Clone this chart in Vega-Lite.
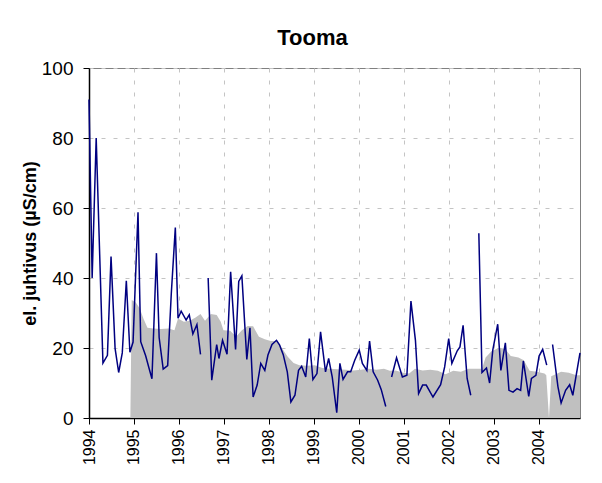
{
  "$schema": "https://vega.github.io/schema/vega-lite/v6.json",
  "width": 491,
  "height": 350,
  "autosize": "none",
  "padding": {"left": 89, "top": 68, "right": 22, "bottom": 65},
  "background": "white",
  "config": {
    "font": "Liberation Sans",
    "view": {"stroke": "#808080", "strokeWidth": 1},
    "axis": {"labelFont": "Liberation Sans", "titleFont": "Liberation Sans", "labelColor": "black", "titleColor": "black"}
  },
  "title": {"text": "Tooma", "fontSize": 22, "fontWeight": "bold", "font": "Liberation Sans", "color": "black", "anchor": "middle", "frame": "group", "dx": -22, "dy": 30, "baseline": "alphabetic", "offset": 22},
  "datasets": {
    "area": [
      {"t": 1994.92, "v": 0}, {"t": 1994.95, "v": 33.7}, {"t": 1995.04, "v": 33}, {"t": 1995.13, "v": 31.3}, {"t": 1995.21, "v": 28.4},
      {"t": 1995.30, "v": 25.8}, {"t": 1995.43, "v": 25.6}, {"t": 1995.60, "v": 25.4}, {"t": 1995.77, "v": 25.6}, {"t": 1995.90, "v": 25.1},
      {"t": 1995.98, "v": 28.4}, {"t": 1996.11, "v": 27.5}, {"t": 1996.24, "v": 27.8}, {"t": 1996.37, "v": 28.7}, {"t": 1996.48, "v": 29.7},
      {"t": 1996.58, "v": 27.8}, {"t": 1996.71, "v": 29.7}, {"t": 1996.84, "v": 29.4}, {"t": 1996.93, "v": 27.5}, {"t": 1996.99, "v": 25.1},
      {"t": 1997.14, "v": 24.9}, {"t": 1997.27, "v": 23.2}, {"t": 1997.40, "v": 25.1}, {"t": 1997.53, "v": 26.3}, {"t": 1997.65, "v": 26.2},
      {"t": 1997.78, "v": 23.2}, {"t": 1997.91, "v": 22.5}, {"t": 1998.04, "v": 22}, {"t": 1998.17, "v": 22}, {"t": 1998.30, "v": 19.8},
      {"t": 1998.42, "v": 17.5}, {"t": 1998.55, "v": 15.7}, {"t": 1998.68, "v": 15.1}, {"t": 1998.85, "v": 14.9}, {"t": 1999.02, "v": 15.1},
      {"t": 1999.19, "v": 14.3}, {"t": 1999.36, "v": 14.1}, {"t": 1999.53, "v": 13.9}, {"t": 1999.71, "v": 13.8}, {"t": 1999.88, "v": 13.6},
      {"t": 2000.05, "v": 13.8}, {"t": 2000.22, "v": 14.1}, {"t": 2000.39, "v": 13.8}, {"t": 2000.56, "v": 14.1}, {"t": 2000.69, "v": 13.5},
      {"t": 2000.82, "v": 13.6}, {"t": 2000.99, "v": 12.9}, {"t": 2001.12, "v": 12.7}, {"t": 2001.25, "v": 14.1}, {"t": 2001.42, "v": 13.6},
      {"t": 2001.59, "v": 13.8}, {"t": 2001.76, "v": 13.5}, {"t": 2001.93, "v": 12.5}, {"t": 2002.10, "v": 13.5}, {"t": 2002.27, "v": 13.2},
      {"t": 2002.44, "v": 14.1}, {"t": 2002.61, "v": 14.1}, {"t": 2002.74, "v": 14.1}, {"t": 2002.82, "v": 17.3}, {"t": 2002.95, "v": 19.1},
      {"t": 2003.12, "v": 20.1}, {"t": 2003.25, "v": 19.8}, {"t": 2003.38, "v": 17.7}, {"t": 2003.55, "v": 17.3}, {"t": 2003.67, "v": 16.5},
      {"t": 2003.80, "v": 13.5}, {"t": 2003.96, "v": 13.2}, {"t": 2004.13, "v": 12.7}, {"t": 2004.17, "v": 12.2}, {"t": 2004.23, "v": 0},
      {"t": 2004.28, "v": 11.9}, {"t": 2004.50, "v": 13.2}, {"t": 2004.67, "v": 12.9}, {"t": 2004.84, "v": 12.2}, {"t": 2004.92, "v": 12.2}
    ],
    "line": [
      {"t": 1994.00, "v": 91, "s": 1}, {"t": 1994.07, "v": 40, "s": 1}, {"t": 1994.16, "v": 80, "s": 1}, {"t": 1994.31, "v": 15.7, "s": 1},
      {"t": 1994.41, "v": 17.9, "s": 1}, {"t": 1994.49, "v": 46.1, "s": 1}, {"t": 1994.58, "v": 19.9, "s": 1}, {"t": 1994.66, "v": 13, "s": 1},
      {"t": 1994.74, "v": 18.6, "s": 1}, {"t": 1994.83, "v": 39.2, "s": 1}, {"t": 1994.91, "v": 18.8, "s": 1}, {"t": 1994.98, "v": 21.7, "s": 1},
      {"t": 1995.09, "v": 58.8, "s": 1}, {"t": 1995.15, "v": 21.8, "s": 1}, {"t": 1995.26, "v": 17.8, "s": 1}, {"t": 1995.34, "v": 14, "s": 1},
      {"t": 1995.40, "v": 11.2, "s": 1}, {"t": 1995.50, "v": 47.1, "s": 1}, {"t": 1995.56, "v": 23, "s": 1}, {"t": 1995.65, "v": 14, "s": 1},
      {"t": 1995.75, "v": 15, "s": 1}, {"t": 1995.83, "v": 35.5, "s": 1}, {"t": 1995.92, "v": 54.4, "s": 1}, {"t": 1995.98, "v": 28.5, "s": 1},
      {"t": 1996.05, "v": 30.5, "s": 1}, {"t": 1996.16, "v": 28, "s": 1}, {"t": 1996.23, "v": 29.5, "s": 1}, {"t": 1996.31, "v": 24, "s": 1},
      {"t": 1996.40, "v": 26.7, "s": 1}, {"t": 1996.48, "v": 18.2, "s": 1},
      {"t": 1996.65, "v": 40, "s": 2}, {"t": 1996.73, "v": 10.8, "s": 2}, {"t": 1996.84, "v": 21, "s": 2}, {"t": 1996.89, "v": 17, "s": 2},
      {"t": 1996.97, "v": 22.2, "s": 2}, {"t": 1997.07, "v": 18.2, "s": 2}, {"t": 1997.15, "v": 41.8, "s": 2}, {"t": 1997.26, "v": 19.6, "s": 2},
      {"t": 1997.33, "v": 39, "s": 2}, {"t": 1997.40, "v": 40.6, "s": 2}, {"t": 1997.51, "v": 16.7, "s": 2}, {"t": 1997.58, "v": 25.8, "s": 2},
      {"t": 1997.65, "v": 6, "s": 2}, {"t": 1997.74, "v": 9.4, "s": 2}, {"t": 1997.82, "v": 15.6, "s": 2}, {"t": 1997.91, "v": 13.6, "s": 2},
      {"t": 1997.98, "v": 18, "s": 2}, {"t": 1998.07, "v": 21, "s": 2}, {"t": 1998.17, "v": 22.2, "s": 2}, {"t": 1998.24, "v": 20.8, "s": 2},
      {"t": 1998.32, "v": 18.1, "s": 2}, {"t": 1998.41, "v": 13.2, "s": 2}, {"t": 1998.49, "v": 4.6, "s": 2}, {"t": 1998.58, "v": 6.5, "s": 2},
      {"t": 1998.66, "v": 13.6, "s": 2}, {"t": 1998.73, "v": 14.8, "s": 2}, {"t": 1998.82, "v": 11.7, "s": 2}, {"t": 1998.90, "v": 22.7, "s": 2},
      {"t": 1998.98, "v": 11, "s": 2}, {"t": 1999.07, "v": 12.7, "s": 2}, {"t": 1999.15, "v": 24.6, "s": 2}, {"t": 1999.26, "v": 13.2, "s": 2},
      {"t": 1999.33, "v": 17, "s": 2}, {"t": 1999.41, "v": 11.7, "s": 2}, {"t": 1999.51, "v": 1.5, "s": 2}, {"t": 1999.58, "v": 15.6, "s": 2},
      {"t": 1999.65, "v": 11, "s": 2}, {"t": 1999.75, "v": 13.2, "s": 2}, {"t": 1999.82, "v": 13.2, "s": 2}, {"t": 1999.91, "v": 16.5, "s": 2},
      {"t": 2000.01, "v": 19.4, "s": 2}, {"t": 2000.08, "v": 15.6, "s": 2}, {"t": 2000.18, "v": 13.6, "s": 2}, {"t": 2000.24, "v": 22, "s": 2},
      {"t": 2000.32, "v": 13.2, "s": 2}, {"t": 2000.42, "v": 10.8, "s": 2}, {"t": 2000.50, "v": 8.1, "s": 2}, {"t": 2000.60, "v": 3.3, "s": 2},
      {"t": 2000.73, "v": 11.7, "s": 3}, {"t": 2000.84, "v": 17.2, "s": 3}, {"t": 2000.97, "v": 11.7, "s": 3}, {"t": 2001.07, "v": 12.2, "s": 3},
      {"t": 2001.16, "v": 33.4, "s": 3}, {"t": 2001.26, "v": 22.2, "s": 3}, {"t": 2001.33, "v": 7, "s": 3}, {"t": 2001.42, "v": 9.4, "s": 3},
      {"t": 2001.50, "v": 9.4, "s": 3}, {"t": 2001.65, "v": 6, "s": 3}, {"t": 2001.82, "v": 9.5, "s": 3}, {"t": 2001.91, "v": 14.6, "s": 3},
      {"t": 2002.00, "v": 22.7, "s": 3}, {"t": 2002.07, "v": 15.6, "s": 3}, {"t": 2002.19, "v": 19.2, "s": 3}, {"t": 2002.25, "v": 20.3, "s": 3},
      {"t": 2002.32, "v": 26.5, "s": 3}, {"t": 2002.41, "v": 11.3, "s": 3}, {"t": 2002.49, "v": 6.5, "s": 3},
      {"t": 2002.67, "v": 52.8, "s": 4}, {"t": 2002.74, "v": 13, "s": 4}, {"t": 2002.84, "v": 14.3, "s": 4}, {"t": 2002.91, "v": 10, "s": 4},
      {"t": 2002.98, "v": 19.4, "s": 4}, {"t": 2003.09, "v": 26.8, "s": 4}, {"t": 2003.16, "v": 13.6, "s": 4}, {"t": 2003.26, "v": 21.5, "s": 4},
      {"t": 2003.34, "v": 7.9, "s": 4}, {"t": 2003.43, "v": 7.4, "s": 4}, {"t": 2003.52, "v": 8.4, "s": 4}, {"t": 2003.60, "v": 7.9, "s": 4},
      {"t": 2003.66, "v": 16.3, "s": 4}, {"t": 2003.78, "v": 6.2, "s": 4}, {"t": 2003.84, "v": 11.3, "s": 4}, {"t": 2003.94, "v": 12.2, "s": 4},
      {"t": 2004.01, "v": 17.7, "s": 4}, {"t": 2004.09, "v": 19.6, "s": 4}, {"t": 2004.18, "v": 15.1, "s": 4},
      {"t": 2004.31, "v": 21, "s": 5}, {"t": 2004.43, "v": 8.9, "s": 5}, {"t": 2004.50, "v": 4.3, "s": 5}, {"t": 2004.60, "v": 7.9, "s": 5},
      {"t": 2004.69, "v": 9.5, "s": 5}, {"t": 2004.76, "v": 6.5, "s": 5}, {"t": 2004.92, "v": 18.6, "s": 5}
    ]
  },
  "encoding": {
    "x": {
      "field": "t", "type": "quantitative",
      "scale": {"domain": [1994, 2004.92], "nice": false, "zero": false},
      "axis": {
        "title": null, "values": [1994, 1995, 1996, 1997, 1998, 1999, 2000, 2001, 2002, 2003, 2004],
        "format": "d", "labelAngle": -90, "labelFontSize": 16, "labelPadding": 5,
        "tickSize": 6, "tickColor": "black", "domainColor": "black", "domainWidth": 1.5,
        "grid": true, "gridColor": "#c4c4c4", "gridDash": [4, 8], "gridWidth": 1
      }
    },
    "y": {
      "field": "v", "type": "quantitative",
      "scale": {"domain": [0, 100], "nice": false},
      "axis": {
        "title": "el. juhtivus  (µS/cm)", "titleFontSize": 18, "titleFontWeight": "bold",
        "titleAngle": -90, "titleX": -54, "titleY": 175, "titleAlign": "center", "titleBaseline": "alphabetic",
        "values": [0, 20, 40, 60, 80, 100], "labelFontSize": 19, "labelPadding": 10,
        "tickSize": 6, "tickColor": "black", "domainColor": "black", "domainWidth": 1.5,
        "grid": true, "gridColor": "#c4c4c4", "gridDash": [4, 8], "gridWidth": 1
      }
    }
  },
  "layer": [
    {"data": {"name": "area"}, "mark": {"type": "area", "color": "#c0c0c0", "opacity": 1}},
    {"data": {"name": "line"}, "mark": {"type": "line", "color": "#000080", "strokeWidth": 1.5}, "encoding": {"detail": {"field": "s", "type": "nominal"}}}
  ]
}
